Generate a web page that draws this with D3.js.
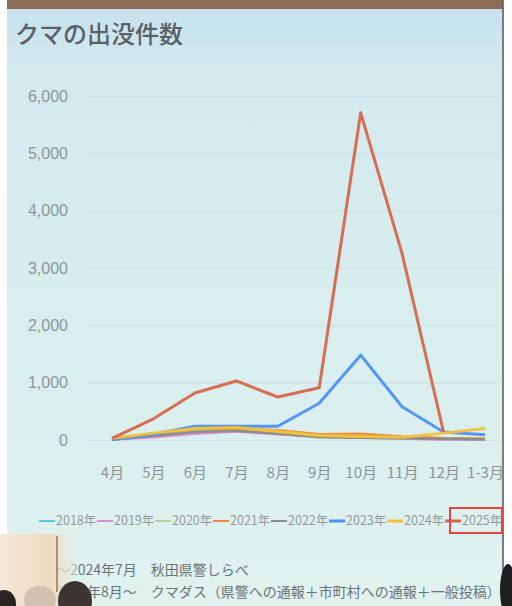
<!DOCTYPE html>
<meta charset="utf-8">
<script src="https://d3js.org/d3.v7.min.js"></script>
<style>
  body { margin: 0; background: #fff; }
  svg { display: block; }
</style>
<svg id="chart" width="512" height="606"></svg>
<script>

// months on the x axis
var months = ["4月", "5月", "6月", "7月", "8月", "9月", "10月", "11月", "12月", "1-3月"];
var years = ["2018年", "2019年", "2020年", "2021年", "2022年", "2023年", "2024年", "2025年"];
var colors = ["#5ec4e6", "#e08ad6", "#b5d38c", "#ee8a3a", "#8c8c8c", "#4d8ff5", "#f2c33a", "#d7664c"];

// values (counts per month)
var v2018 = [10, 60, 150, 170, 120, 60, 50, 30, 15, 10];
var v2019 = [10, 50, 110, 150, 100, 60, 40, 25, 10, 10];
var v2020 = [15, 80, 180, 190, 130, 80, 70, 50, 30, 20];
var v2021 = [20, 110, 190, 200, 170, 100, 110, 60, 30, 20];
var v2022 = [10, 70, 140, 160, 110, 50, 40, 30, 20, 10];
var v2023 = [10, 100, 240, 240, 240, 640, 1480, 580, 140, 90];
var v2024 = [30, 120, 200, 220, 150, 80, 60, 50, 120, 200];
var v2025 = [30, 370, 820, 1030, 750, 910, 5710, 3250, 140];
var series = [v2018, v2019, v2020, v2021, v2022, v2023, v2024, v2025];

var yTicks = [0, 1000, 2000, 3000, 4000, 5000, 6000];

var svg = d3.select("#chart");

// photo frame: slide background, brown top edge, white right edge
var defs = svg.append("defs");
var bg = defs.append("linearGradient").attr("id", "bg").attr("x1", 0).attr("y1", 0).attr("x2", 0).attr("y2", 1);
bg.append("stop").attr("offset", "0%").attr("stop-color", "#c5e1ec");
bg.append("stop").attr("offset", "12%").attr("stop-color", "#d4eaef");
bg.append("stop").attr("offset", "60%").attr("stop-color", "#d9eeee");
bg.append("stop").attr("offset", "100%").attr("stop-color", "#e1f2ef");

svg.append("rect").attr("x", 7).attr("y", 0).attr("width", 496).attr("height", 606).attr("fill", "url(#bg)");
svg.append("rect").attr("x", 7).attr("y", 0).attr("width", 496).attr("height", 9).attr("fill", "#8a6b57");
svg.append("line").attr("x1", 503).attr("x2", 503).attr("y1", 0).attr("y2", 606)
    .style("stroke", "#555").style("stroke-width", 1.5);

// title
svg.append("text")
    .attr("x", 15).attr("y", 43)
    .style("font-family", "'Noto Sans CJK JP', sans-serif")
    .style("font-size", "24px")
    .style("font-weight", 500)
    .style("fill", "#5a5f68")
    .text("クマの出没件数");

// scales
var x = d3.scalePoint().domain(months).range([112, 485]);
var y = d3.scaleLinear().domain([0, 6000]).range([440, 96]);

// grid
svg.append("g")
    .attr("transform", "translate(88,0)")
    .call(d3.axisLeft(y).tickValues(yTicks).tickSize(-412).tickFormat(""))
    .call(function(g){ g.select(".domain").remove(); })
    .selectAll("line")
      .style("stroke", "#cbe0e3")
      .style("stroke-width", 1);

// y axis labels
svg.append("g")
    .attr("transform", "translate(72,0)")
    .call(d3.axisLeft(y).tickValues(yTicks).tickSize(0).tickPadding(4).tickFormat(d3.format(",")))
    .call(function(g){ g.select(".domain").remove(); })
    .selectAll("text")
      .style("font-family", "'Liberation Sans Narrow', 'Liberation Sans', sans-serif")
      .style("font-size", "16px")
      .style("fill", "#8b969b");

// x axis labels
svg.append("g")
    .attr("transform", "translate(0,440)")
    .call(d3.axisBottom(x).tickSize(0).tickPadding(27))
    .call(function(g){ g.select(".domain").remove(); })
    .selectAll("text")
      .style("font-family", "'Liberation Sans Narrow', 'Noto Sans CJK JP', sans-serif")
      .style("font-size", "15px")
      .style("fill", "#8b969b");

// lines
var line = d3.line()
    .x(function(d, i){ return x(months[i]); })
    .y(function(d){ return y(d); });

svg.append("g")
  .selectAll("path")
  .data(series)
  .enter()
  .append("path")
    .attr("d", function(d){ return line(d); })
    .style("fill", "none")
    .style("stroke", function(d, i){ return colors[i]; })
    .style("stroke-width", function(d, i){ return i >= 5 ? 3 : 2.5; })
    .style("stroke-linejoin", "round")
    .style("opacity", 0.95);

// legend
var legend = svg.append("g")
  .selectAll("g")
  .data(years)
  .enter()
  .append("g")
    .attr("transform", function(d, i){ return "translate(" + (39 + i * 58) + ",521)"; });

legend.append("line")
    .attr("x1", 0).attr("x2", 16)
    .style("stroke", function(d, i){ return colors[i]; })
    .style("stroke-width", function(d, i){ return i >= 5 ? 3 : 2; });

legend.append("text")
    .attr("x", 17).attr("dy", "0.35em")
    .style("font-family", "'Liberation Sans Narrow', 'Noto Sans CJK JP', sans-serif")
    .style("font-size", "12.5px")
    .style("fill", "#8f9a9e")
    .text(function(d){ return d; });

// red highlight box around 2025
svg.append("rect")
    .attr("x", 450).attr("y", 508).attr("width", 52).attr("height", 25)
    .style("fill", "none")
    .style("stroke", "#e0473d")
    .style("stroke-width", 2);

// source notes
var notes = ["～2024年7月　秋田県警しらべ", "2024年8月～　クマダス（県警への通報＋市町村への通報＋一般投稿）"];
svg.append("g")
  .selectAll("text")
  .data(notes)
  .enter()
  .append("text")
    .attr("x", 56)
    .attr("y", function(d, i){ return 575 + i * 22; })
    .style("font-family", "'Noto Sans CJK JP', sans-serif")
    .style("font-size", "14px")
    .style("fill", "#6b7378")
    .text(function(d){ return d; });

// audience in front of the screen (lower left of the photo)
var wall = defs.append("linearGradient").attr("id", "wall").attr("x1", 0).attr("y1", 0).attr("x2", 1).attr("y2", 0);
wall.append("stop").attr("offset", "0%").attr("stop-color", "#f3e7d8");
wall.append("stop").attr("offset", "65%").attr("stop-color", "#eedbc2");
wall.append("stop").attr("offset", "100%").attr("stop-color", "#e1eeea").attr("stop-opacity", 0.5);
svg.append("rect").attr("x", 0).attr("y", 534).attr("width", 77).attr("height", 72).attr("fill", "url(#wall)");
svg.append("line").attr("x1", 57).attr("x2", 57).attr("y1", 536).attr("y2", 592)
    .style("stroke", "#c9826a").style("stroke-width", 2);
svg.append("ellipse").attr("cx", 40).attr("cy", 600).attr("rx", 16).attr("ry", 14).attr("fill", "#d2c2b2");
svg.append("ellipse").attr("cx", 75).attr("cy", 601).attr("rx", 17).attr("ry", 20).attr("fill", "#3d3434");
svg.append("ellipse").attr("cx", 4).attr("cy", 604).attr("rx", 12).attr("ry", 14).attr("fill", "#2a2422");
svg.append("ellipse").attr("cx", 508).attr("cy", 590).attr("rx", 8).attr("ry", 26).attr("fill", "#1e1e1e");

</script>
